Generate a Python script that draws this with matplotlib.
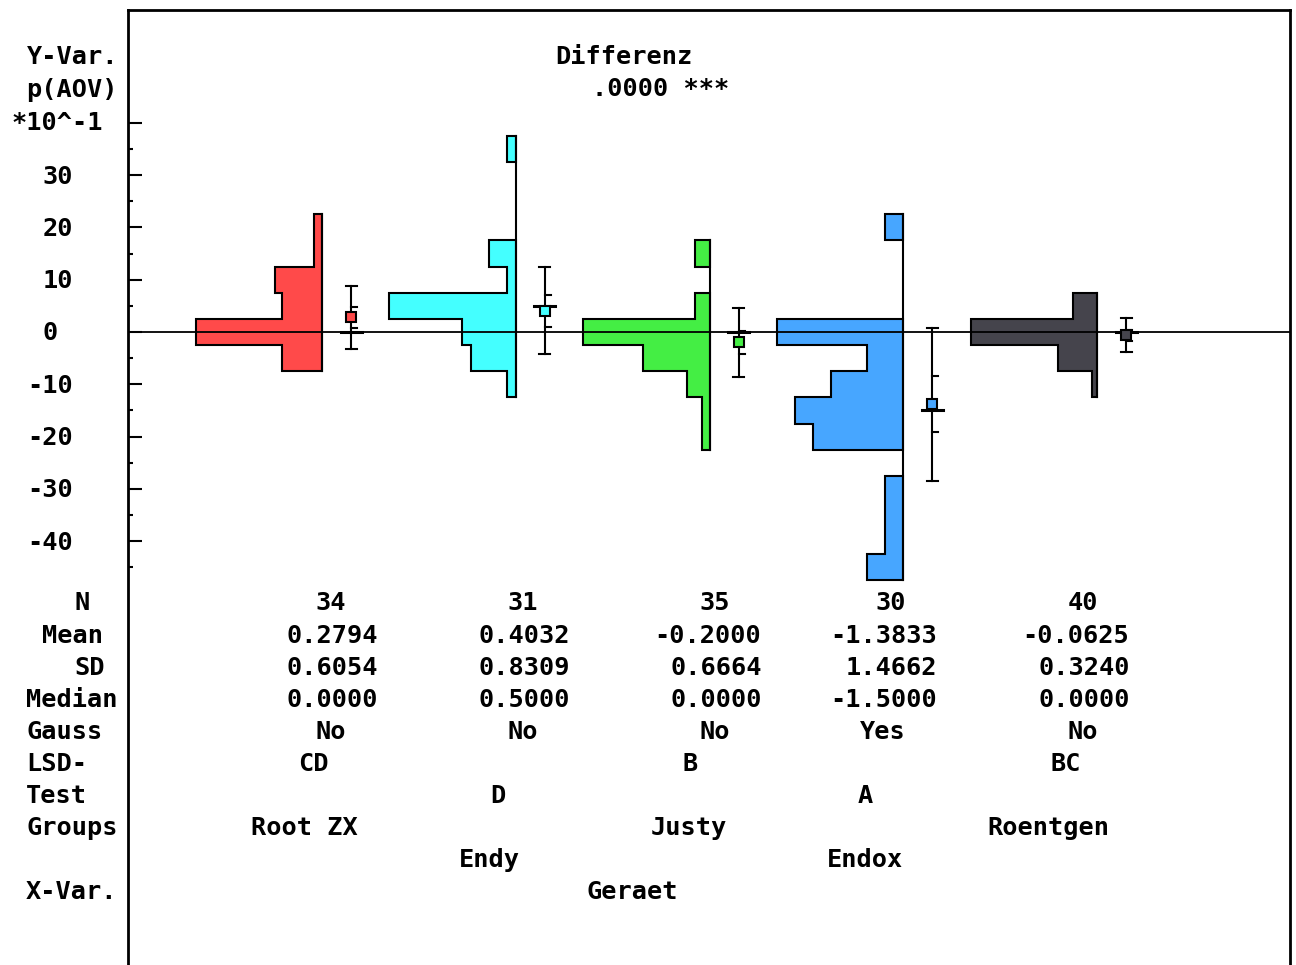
import numpy as np
import matplotlib
matplotlib.use("Agg")
import matplotlib.pyplot as plt
from matplotlib.patches import Polygon
import matplotlib.transforms as mtransforms

# ---------------- data ----------------
groups = ["Root ZX", "Endy", "Justy", "Endox", "Roentgen"]
colors = ["#FF4A4A", "#44FFFF", "#44EE44", "#47A6FF", "#45444C"]

# observed values (original units) and their counts per group
rootzx_values = [2.0, 1.5, 1.0, 0.5, 0.0, -0.5]
rootzx_counts = [1, 1, 6, 5, 16, 5]
endy_values = [3.5, 1.5, 1.0, 0.5, 0.0, -0.5, -1.0]
endy_counts = [1, 3, 1, 14, 6, 5, 1]
justy_values = [1.5, 0.5, 0.0, -0.5, -1.0, -1.5, -2.0]
justy_counts = [2, 2, 17, 9, 3, 1, 1]
endox_values = [2.0, 0.0, -0.5, -1.0, -1.5, -2.0, -3.0, -3.5, -4.0, -4.5]
endox_counts = [1, 7, 2, 4, 6, 5, 1, 1, 1, 2]
roentgen_values = [0.5, 0.0, -0.5, -1.0]
roentgen_counts = [5, 26, 8, 1]

gauss = ["No", "No", "No", "Yes", "No"]
lsd_groups = ["CD", "D", "B", "A", "BC"]
title = "Differenz"
p_aov = ".0000 ***"
x_var = "Geraet"
y_ticks_major = [40, 30, 20, 10, 0, -10, -20, -30, -40]
y_ticks_minor = [35, 25, 15, 5, -5, -15, -25, -35, -45]
y_labels = [30, 20, 10, 0, -10, -20, -30, -40]
row_labels = ["N", "Mean", "SD", "Median", "Gauss", "LSD-", "Test", "Groups", "", "X-Var."]

all_values = [rootzx_values, endy_values, justy_values, endox_values, roentgen_values]
all_counts = [rootzx_counts, endy_counts, justy_counts, endox_counts, roentgen_counts]

# ---------------- layout ----------------
W, H = 1296, 965
AX_L, AX_R, AX_T = 128, 1290, 10
Y0_PX = 332.0
PX_PER_UNIT = 5.229
GX0, GDX = 322.0, 193.75
SCALE = 10.0        # plot units = value * 10  (labels are *10^-1)
BIN_H = 5.0
HIST_W = 126.5 / GDX
EB_OFF = 29 / GDX
CAP_HW = 5.5 / GDX
MED_HW = 10.5 / GDX
TICK_L = 6 / GDX
FONT = "DejaVu Sans Mono"
FS = 18.2
FW = "bold"
CW = 15.8
col_px = [330, 522, 714, 890, 1082]
row_y0, row_dy = 602, 32.1
BASE_OFF = 8.5

fig = plt.figure(figsize=(W / 100, H / 100), dpi=100)
ax = fig.add_axes([AX_L / W, 0, (AX_R - AX_L) / W, (H - AX_T) / H])
ax.set_xlim((AX_L - GX0) / GDX, (AX_R - GX0) / GDX)
ax.set_ylim(-(H - Y0_PX) / PX_PER_UNIT, (Y0_PX - AX_T) / PX_PER_UNIT)

for s in ["left", "top", "right"]:
    ax.spines[s].set_linewidth(2.0)
ax.spines["bottom"].set_visible(False)
ax.set_xticks([])
ax.set_yticks(y_ticks_major)
ax.set_yticks(y_ticks_minor, minor=True)
ax.tick_params(axis="y", which="major", direction="in", length=10, width=1.5, labelleft=False)
ax.tick_params(axis="y", which="minor", direction="in", length=3.6, width=1.5, labelleft=False)

# histograms
for i, (vals, cnts, col) in enumerate(zip(all_values, all_counts, colors)):
    vals = np.array(vals)
    cnts = np.array(cnts, dtype=float)
    widths = cnts / cnts.max() * HIST_W
    order = np.argsort(-vals)
    vals, widths = vals[order], widths[order]
    runs = []
    cur = [0]
    for k in range(1, len(vals)):
        if abs(vals[k - 1] - vals[k] - 0.5) < 1e-9:
            cur.append(k)
        else:
            runs.append(cur)
            cur = [k]
    runs.append(cur)
    for run in runs:
        pts = []
        top = vals[run[0]] * SCALE + BIN_H / 2
        pts.append((i, top))
        for k in run:
            yt = vals[k] * SCALE + BIN_H / 2
            yb = vals[k] * SCALE - BIN_H / 2
            pts.append((i - widths[k], yt))
            pts.append((i - widths[k], yb))
        bot = vals[run[-1]] * SCALE - BIN_H / 2
        pts.append((i, bot))
        ax.add_patch(Polygon(pts, closed=True, facecolor=col, edgecolor="black",
                             linewidth=1.5, joinstyle="miter", zorder=2))
    ax.plot([i, i], [vals.max() * SCALE + BIN_H / 2, vals.min() * SCALE - BIN_H / 2],
            color="black", lw=1.5, zorder=3)

# zero line
ax.axhline(0, color="black", lw=1.3, zorder=5)

# stats + error bars
stats = []
for i, (vals, cnts, col) in enumerate(zip(all_values, all_counts, colors)):
    data = np.repeat(np.array(vals), cnts)
    n = len(data)
    m = data.mean()
    sd = data.std(ddof=1)
    med = np.median(data)
    se = sd / np.sqrt(n)
    stats.append((n, m, sd, med))
    xe = i + EB_OFF
    lo, hi = (m - sd) * SCALE, (m + sd) * SCALE
    ax.plot([xe, xe], [lo, hi], color="black", lw=1.5, zorder=6)
    for yv in (lo, hi):
        ax.plot([xe - CAP_HW, xe + CAP_HW], [yv, yv], color="black", lw=1.5, zorder=6)
    for yv in ((m - 2 * se) * SCALE, (m + 2 * se) * SCALE):
        ax.plot([xe, xe + TICK_L], [yv, yv], color="black", lw=1.5, zorder=6)
    ax.plot([xe - MED_HW, xe + MED_HW], [med * SCALE, med * SCALE], color="black", lw=2.2, zorder=4)
    ax.plot([xe], [m * SCALE], marker="s", markersize=7, markerfacecolor=col,
            markeredgecolor="black", markeredgewidth=1.5, zorder=7, linestyle="none")

# y tick labels
trans = mtransforms.blended_transform_factory(fig.transFigure, ax.transData)
trans = mtransforms.offset_copy(trans, fig=fig, y=-BASE_OFF, units="dots")
for v in y_labels:
    x = 27 if v < 0 else 27 + CW
    ax.text(x / W, v, str(v), transform=trans, ha="left", va="baseline",
            fontfamily=FONT, fontsize=FS, fontweight=FW, color="black", clip_on=False)


def ftext(x, yc, s, ha="left"):
    fig.text(x / W, 1 - (yc + BASE_OFF) / H, s, ha=ha, va="baseline",
             fontfamily=FONT, fontsize=FS, fontweight=FW, color="black")


# axis title block
ftext(27, 56, "Y-Var.")
ftext(26, 88, "p(AOV)")
ftext(12, 121, "*10^-1")
ftext(555, 56, title)
ftext(592, 88, p_aov)

# row labels
row_left = [74, 42, 74, 26, 26, 26, 26, 26, 26, 26]
for k, (lab, xl) in enumerate(zip(row_labels, row_left)):
    if lab:
        ftext(xl, row_y0 + k * row_dy, lab)

# table values
for i, (n, m, sd, med) in enumerate(stats):
    c = col_px[i]
    ftext(c + 16, row_y0 + 0 * row_dy, str(n), ha="right")
    ftext(c + 47.5, row_y0 + 1 * row_dy, f"{m:.4f}", ha="right")
    ftext(c + 47.5, row_y0 + 2 * row_dy, f"{sd:.4f}", ha="right")
    ftext(c + 47.5, row_y0 + 3 * row_dy, f"{med:.4f}", ha="right")
    ftext(c + 16, row_y0 + 4 * row_dy, gauss[i], ha="right")
    ftext(c - 32, row_y0 + (5 + i % 2) * row_dy, lsd_groups[i])
    g = groups[i]
    ftext(c - CW * (len(g) // 2 + 2), row_y0 + (7 + i % 2) * row_dy, g)

ftext(587, row_y0 + 9 * row_dy, x_var)

fig.savefig("out.png", dpi=100)
